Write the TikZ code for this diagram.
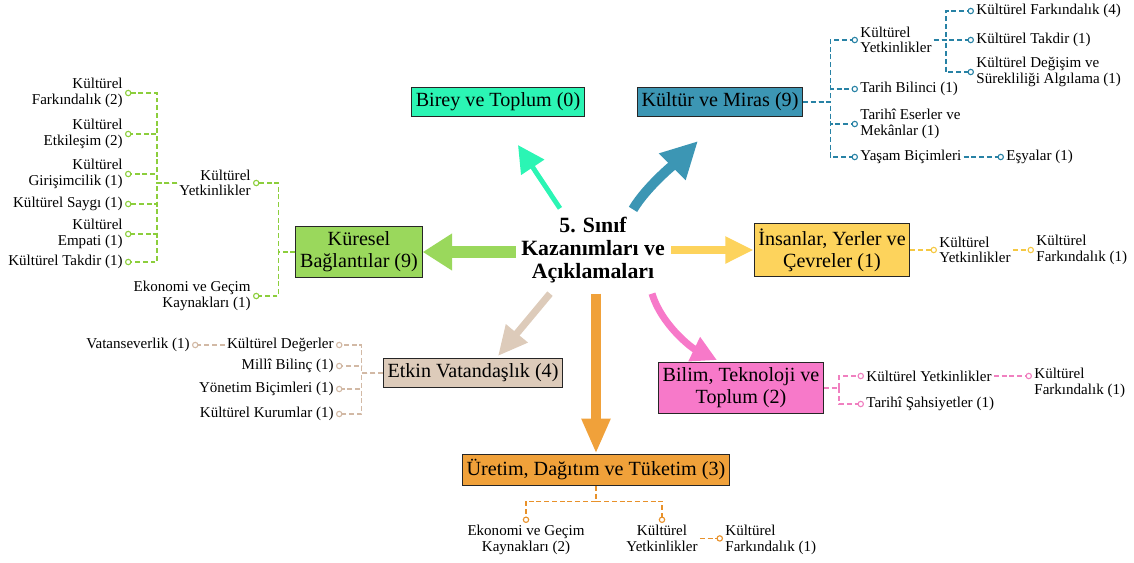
\documentclass[tikz,border=0pt]{standalone}
\usepackage{fontspec}
\setmainfont{Liberation Serif}
\usepackage{xcolor}
\usepackage{tikz}
\usetikzlibrary{arrows.meta,calc}

\definecolor{mint}{RGB}{43,245,180}
\definecolor{petrol}{RGB}{60,150,180}
\definecolor{petrolkoyu}{RGB}{40,130,165}
\definecolor{cimen}{RGB}{154,216,92}
\definecolor{cimenkoyu}{RGB}{140,206,60}
\definecolor{sari}{RGB}{253,211,92}
\definecolor{sarikoyu}{RGB}{245,200,66}
\definecolor{bej}{RGB}{221,203,186}
\definecolor{bejkoyu}{RGB}{210,185,165}
\definecolor{pembe}{RGB}{247,121,201}
\definecolor{pembekoyu}{RGB}{240,128,192}
\definecolor{turuncu}{RGB}{240,161,58}
\definecolor{turuncukoyu}{RGB}{232,145,42}

\newcommand{\kutuyazi}{\fontsize{14.3}{15.5}\selectfont}
\newcommand{\etiket}{\fontsize{10.7}{11}\selectfont}

\begin{document}
\begin{tikzpicture}[x=0.025cm, y=-0.025cm,
		kutu/.style={draw=black!85, line width=0.8pt, fill=#1, font=\kutuyazi, align=center, inner xsep=3pt, inner ysep=3.8pt},
		yaprak/.style={font=\etiket, inner sep=1.5pt},
		bag/.style={draw=#1, line width=0.9pt, dash pattern=on 3.5pt off 2pt, -{Circle[open,length=4.6pt,width=4.6pt,line width=0.8pt]}}]
			\useasboundingbox (0,0) rectangle (1134,562);
			% Merkez
			\node (merkez) at (593,250) [font=\fontsize{15.5}{16.5}\selectfont\bfseries, align=center, inner sep=3pt] {5. Sınıf\\Kazanımları ve\\Açıklamaları};
			% Kutular
			\node (birey) at (498,102) [kutu=mint] {Birey ve Toplum (0)};
			\node (kultur) at (720,102) [kutu=petrol] {Kültür ve Miras (9)};
			\node (kuresel) at (359,252) [kutu=cimen] {Küresel\\Bağlantılar (9)};
			\node (insan) at (832,250) [kutu=sari] {İnsanlar, Yerler ve\\Çevreler (1)};
			\node (etkin) at (473,373) [kutu=bej] {Etkin Vatandaşlık (4)};
			\node (bilim) at (741,388) [kutu=pembe] {Bilim, Teknoloji ve\\Toplum (2)};
			\node (uretim) at (596,470) [kutu=turuncu] {Üretim, Dağıtım ve Tüketim (3)};
			% Oklar
			\draw[draw=mint, line width=3.5pt, -{Triangle[length=19pt,width=19pt]}] ($(merkez.north)+(-33,-4)$) -- ($(birey.south)+(20,28)$);
			\draw[draw=petrol, line width=7pt, -{Triangle[length=26pt,width=25pt]}] ($(merkez.north)+(40,-3)$) .. controls +(14,-24) and +(-16,16) .. ($(kultur.south)+(-22,24)$);
			\draw[draw=cimen, line width=8pt, -{Triangle[length=21pt,width=25pt]}] ($(merkez.west)+(-1,2)$) -- (kuresel.east);
			\draw[draw=sari, line width=5pt, -{Triangle[length=20pt,width=18pt]}] ($(merkez.east)+(2,0)$) -- (insan.west);
			\draw[draw=bej, line width=5pt, -{Triangle[length=21pt,width=19pt]}] ($(merkez.south)+(-43,6)$) -- ($(etkin.north)+(25,-2)$);
			\draw[draw=turuncu, line width=7pt, -{Triangle[length=25pt,width=19pt]}] ($(merkez.south)+(3,6)$) -- (uretim.north);
			\draw[draw=pembe, line width=5pt, -{Triangle[length=18pt,width=18pt]}] ($(merkez.south)+(59,6)$) .. controls +(10,32) and +(-25,-12) .. ($(bilim.north)+(-24,-2)$);
			% Küresel Bağlantılar
			\node (kyL) at (253,183) [yaprak, anchor=east, align=right] {Kültürel\\Yetkinlikler};
			\node (ekoL) at (253,296) [yaprak, anchor=east, align=right] {Ekonomi ve Geçim\\Kaynakları (1)};
			\node (kf2) at (125,93) [yaprak, anchor=east, align=right] {Kültürel\\Farkındalık (2)};
			\node (ke2) at (125,134) [yaprak, anchor=east, align=right] {Kültürel\\Etkileşim (2)};
			\node (kg1) at (125,174) [yaprak, anchor=east, align=right] {Kültürel\\Girişimcilik (1)};
			\node (ks1) at (125,204) [yaprak, anchor=east] {Kültürel Saygı (1)};
			\node (kem1) at (125,234) [yaprak, anchor=east, align=right] {Kültürel\\Empati (1)};
			\node (kt1) at (125,262) [yaprak, anchor=east] {Kültürel Takdir (1)};
			\foreach \n in {kyL,ekoL}
			\draw[bag=cimenkoyu] (kuresel.west) -- ++(-17,0) |- (\n.east);
			\foreach \n in {kf2,ke2,kg1,ks1,kem1,kt1}
			\draw[bag=cimenkoyu] (kyL.west) -- ++(-20,0) |- (\n.east);
			% Kültür ve Miras
			\node (kyT) at (858,40) [yaprak, anchor=west, align=left] {Kültürel\\Yetkinlikler};
			\node (tb1) at (858,89) [yaprak, anchor=west] {Tarih Bilinci (1)};
			\node (te1) at (858,124) [yaprak, anchor=west, align=left] {Tarihî Eserler ve\\Mekânlar (1)};
			\node (yb) at (858,157) [yaprak, anchor=west] {Yaşam Biçimleri};
			\node (es1) at (1004,157) [yaprak, anchor=west] {Eşyalar (1)};
			\node (kf4) at (974,11) [yaprak, anchor=west] {Kültürel Farkındalık (4)};
			\node (kt1T) at (974,40) [yaprak, anchor=west] {Kültürel Takdir (1)};
			\node (kd1) at (974,72) [yaprak, anchor=west, align=left] {Kültürel Değişim ve\\Sürekliliği Algılama (1)};
			\foreach \n in {kyT,tb1,te1,yb}
			\draw[bag=petrolkoyu] (kultur.east) -- ++(27,0) |- (\n.west);
			\foreach \n in {kf4,kt1T,kd1}
			\draw[bag=petrolkoyu] (kyT.east) -- ++(12,0) |- (\n.west);
			\draw[bag=petrolkoyu] (yb.east) -- (es1.west);
			% İnsanlar, Yerler ve Çevreler
			\node (kyY) at (937,250) [yaprak, anchor=west, align=left] {Kültürel\\Yetkinlikler};
			\node (kfY) at (1034,250) [yaprak, anchor=west, align=left] {Kültürel\\Farkındalık (1)};
			\draw[bag=sarikoyu] (insan.east) -- (kyY.west);
			\draw[bag=sarikoyu] (kyY.east) -- (kfY.west);
			% Bilim, Teknoloji ve Toplum
			\node (kyP) at (864,376) [yaprak, anchor=west] {Kültürel Yetkinlikler};
			\node (tsP) at (864,404) [yaprak, anchor=west] {Tarihî Şahsiyetler (1)};
			\node (kfP) at (1032,383) [yaprak, anchor=west, align=left] {Kültürel\\Farkındalık (1)};
			\foreach \n in {kyP,tsP}
			\draw[bag=pembekoyu] (bilim.east) -- ++(15,0) |- (\n.west);
			\draw[bag=pembekoyu] (kyP.east) -- (kyP.east -| kfP.west);
			% Etkin Vatandaşlık
			\node (kdB) at (336,345) [yaprak, anchor=east] {Kültürel Değerler};
			\node (mb1) at (336,366) [yaprak, anchor=east] {Millî Bilinç (1)};
			\node (yb1) at (336,389) [yaprak, anchor=east] {Yönetim Biçimleri (1)};
			\node (kk1) at (336,414) [yaprak, anchor=east] {Kültürel Kurumlar (1)};
			\node (vt1) at (192,345) [yaprak, anchor=east] {Vatanseverlik (1)};
			\foreach \n in {kdB,mb1,yb1,kk1}
			\draw[bag=bejkoyu] (etkin.west) -- ++(-21,0) |- (\n.east);
			\draw[bag=bejkoyu] (kdB.west) -- (vt1.east);
			% Üretim, Dağıtım ve Tüketim
			\node (ekoO) at (526,523) [yaprak, anchor=north, align=center] {Ekonomi ve Geçim\\Kaynakları (2)};
			\node (kyO) at (662,523) [yaprak, anchor=north, align=center] {Kültürel\\Yetkinlikler};
			\node (kfO) at (723,540) [yaprak, anchor=west, align=left] {Kültürel\\Farkındalık (1)};
			\foreach \n in {ekoO,kyO}
			\draw[bag=turuncukoyu] (uretim.south) -- ++(0,15) -| (\n.north);
			\draw[bag=turuncukoyu] (kyO.east) -- (kyO.east -| kfO.west);
		\end{tikzpicture}
\end{document}
